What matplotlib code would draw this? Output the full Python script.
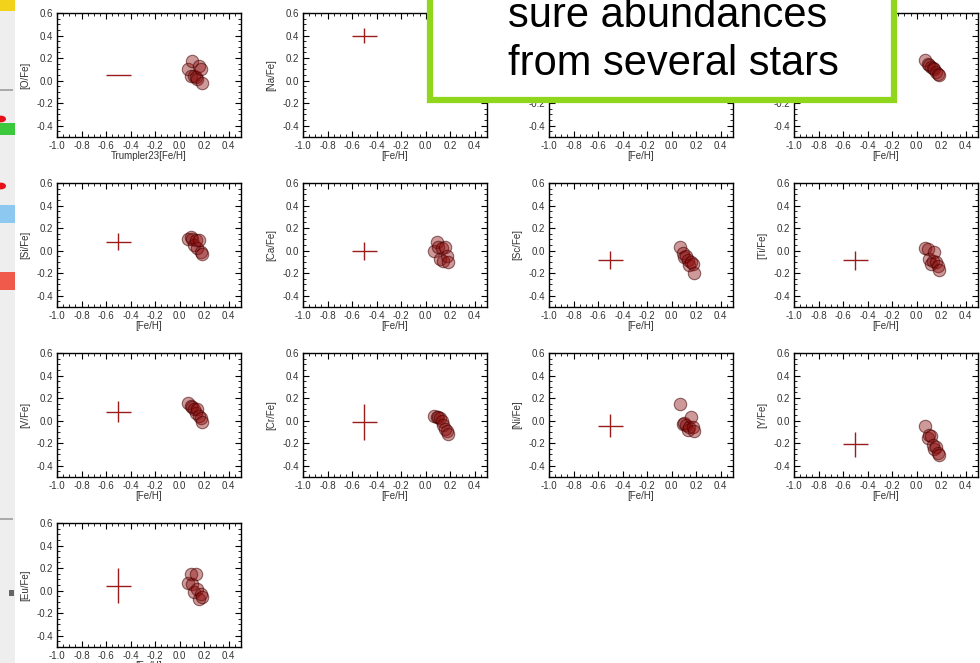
"""Trumpler 23 abundance ratios [X/Fe] against [Fe/H], one panel per element."""
import matplotlib

matplotlib.use("Agg")
import matplotlib.pyplot as plt  # noqa: E402
from matplotlib.patches import Rectangle  # noqa: E402
from matplotlib.ticker import MultipleLocator, FormatStrFormatter  # noqa: E402

plt.rcParams["font.family"] = ["Liberation Sans", "DejaVu Sans"]

# [Fe/H] of the cluster stars (same stars in every panel)
fe_h = [0.07, 0.09, 0.10, 0.12, 0.13, 0.14, 0.16, 0.17, 0.18]

elements = ["O", "Na", "Mg", "Al", "Si", "Ca", "Sc", "Ti", "V", "Cr", "Ni", "Y", "Eu"]

x_fe = {
    "O":  [0.10, 0.04, 0.17, 0.04, 0.03, 0.015, 0.13, 0.10, -0.02],
    "Na": [0.20, 0.15, 0.22, 0.18, 0.12, 0.16, 0.14, 0.10, 0.12],
    "Mg": [0.10, 0.08, 0.12, 0.06, 0.05, 0.09, 0.04, 0.03, 0.02],
    "Al": [0.18, 0.15, 0.14, 0.12, 0.11, 0.10, 0.08, 0.06, 0.05],
    "Si": [0.10, 0.12, 0.10, 0.05, 0.09, 0.02, 0.09, -0.01, -0.03],
    "Ca": [0.0, 0.075, 0.03, -0.075, 0.02, -0.09, 0.03, -0.05, -0.10],
    "Sc": [0.035, -0.02, -0.06, -0.05, -0.08, -0.13, -0.10, -0.12, -0.20],
    "Ti": [0.025, 0.015, -0.075, -0.12, -0.09, -0.015, -0.105, -0.135, -0.17],
    "V":  [0.16, 0.13, 0.12, 0.10, 0.07, 0.10, 0.04, 0.02, -0.01],
    "Cr": [0.04, 0.035, 0.03, 0.02, 0.0, -0.04, -0.07, -0.09, -0.12],
    "Ni": [0.145, -0.03, -0.02, -0.04, -0.085, -0.055, 0.03, -0.06, -0.09],
    "Y":  [-0.05, -0.15, -0.13, -0.14, -0.22, -0.25, -0.23, -0.285, -0.305],
    "Eu": [0.07, 0.15, 0.06, -0.01, 0.15, 0.015, -0.07, -0.03, -0.06],
}

# typical error bar drawn at [Fe/H] = -0.5
err_x = -0.5
err_y = {"O": 0.05, "Na": 0.40, "Mg": 0.10, "Al": 0.05, "Si": 0.08, "Ca": -0.005,
         "Sc": -0.08, "Ti": -0.084, "V": 0.08, "Cr": -0.01, "Ni": -0.045,
         "Y": -0.21, "Eu": 0.045}
err_dx = 0.1
err_dy = {"O": 0.004, "Na": 0.065, "Mg": 0.08, "Al": 0.08, "Si": 0.075, "Ca": 0.08,
          "Sc": 0.08, "Ti": 0.085, "V": 0.09, "Cr": 0.16, "Ni": 0.10,
          "Y": 0.11, "Eu": 0.155}

x_ticks = [-1.0, -0.8, -0.6, -0.4, -0.2, 0.0, 0.2, 0.4]
y_ticks = [-0.4, -0.2, 0.0, 0.2, 0.4, 0.6]

W, H = 980, 663
fig = plt.figure(figsize=(W / 100, H / 100), dpi=100)
fig.patch.set_facecolor("white")

col_left = [57, 303, 549, 794]
row_top = [13, 183, 353, 523]
ax_w, ax_h = 184, 124

for i, el in enumerate(elements):
    r, c = divmod(i, 4)
    left = col_left[c] / W
    bottom = (H - row_top[r] - ax_h) / H
    ax = fig.add_axes([left, bottom, ax_w / W, ax_h / H])
    ax.scatter(fe_h, x_fe[el], s=80, facecolor=(0.55, 0.05, 0.05, 0.42),
               edgecolor=(0.25, 0.0, 0.0, 0.55), linewidth=0.8, zorder=3)
    ax.errorbar([err_x], [err_y[el]], xerr=err_dx, yerr=err_dy[el], fmt="none",
                ecolor="#9a1c1c", elinewidth=1.0, capsize=0, zorder=2)
    ax.set_xlim(-1.0, 0.5)
    ax.set_ylim(-0.5, 0.6)
    ax.set_xticks(x_ticks)
    ax.set_yticks(y_ticks)
    ax.xaxis.set_minor_locator(MultipleLocator(0.05))
    ax.yaxis.set_minor_locator(MultipleLocator(0.05))
    ax.xaxis.set_major_formatter(FormatStrFormatter("%.1f"))
    ax.yaxis.set_major_formatter(FormatStrFormatter("%.1f"))
    ax.tick_params(which="both", direction="in", top=True, right=True,
                   labelsize=7, colors="black", labelcolor="#333333", pad=3)
    ax.tick_params(which="major", length=4, width=0.8)
    ax.tick_params(which="minor", length=2, width=0.6)
    for sp in ax.spines.values():
        sp.set_linewidth(1.0)
    ax.set_xlabel("Trumpler23[Fe/H]" if i == 0 else "[Fe/H]", fontsize=7,
                  color="#333333", labelpad=0)
    ax.set_ylabel(f"[{el}/Fe]", fontsize=7, color="#333333", labelpad=4)


def px(x0, y0, w, h):
    """Figure-fraction rectangle from pixel coords (top-left origin)."""
    return (x0 / W, (H - y0 - h) / H), w / W, h / H


# slide decorations on the left edge
xy, w, h = px(0, 0, 15, H)
fig.add_artist(Rectangle(xy, w, h, transform=fig.transFigure, facecolor="#eeeeee",
                         edgecolor="none", zorder=-1))
for (x0, y0, bw, bh, col) in [(0, 0, 15, 11, "#f2d21a"), (0, 123, 15, 12, "#3cc83c"),
                              (0, 205, 15, 18, "#8cc8f0"), (0, 272, 15, 18, "#f05a4a"),
                              (0, 89, 13, 2, "#aaaaaa"), (0, 518, 13, 2, "#aaaaaa"),
                              (9, 590, 5, 6, "#666666")]:
    xy, w, h = px(x0, y0, bw, bh)
    fig.add_artist(Rectangle(xy, w, h, transform=fig.transFigure, facecolor=col,
                             edgecolor="none", zorder=1))
for yy in (119, 186):
    fig.add_artist(plt.Circle((1 / W, (H - yy) / H), 5 / W, transform=fig.transFigure,
                              facecolor="#e8101a", edgecolor="none", zorder=1))

# callout box overlapping the top row
xy, w, h = px(430, -20, 464, 120)
fig.add_artist(Rectangle(xy, w, h, transform=fig.transFigure, facecolor="white",
                         edgecolor="#8fd61c", linewidth=4.5, zorder=10))
fig.text(508 / W, (H - 27) / H, "sure abundances", fontsize=30, va="baseline",
         ha="left", color="black", zorder=11)
fig.text(508 / W, (H - 75) / H, "from several stars", fontsize=30, va="baseline",
         ha="left", color="black", zorder=11)

fig.savefig("out.png", dpi=100)
